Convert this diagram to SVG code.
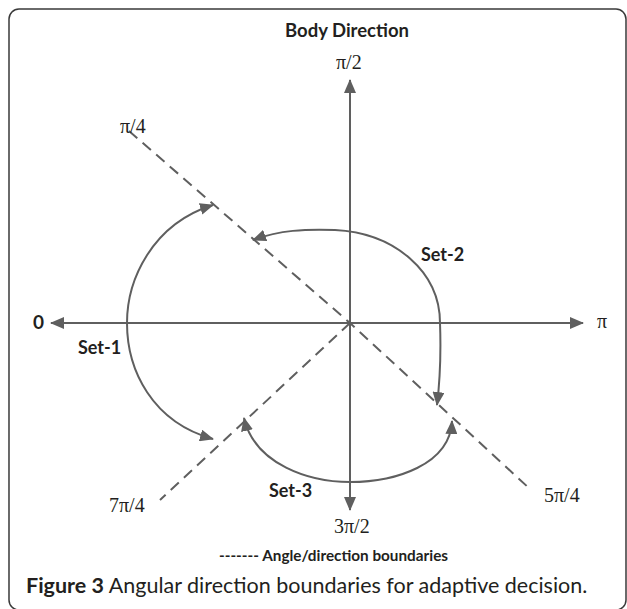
<svg xmlns="http://www.w3.org/2000/svg" width="627" height="609" viewBox="0 0 627 609">
<style>
.ax{stroke:#5f5f5f;stroke-width:2;fill:none}
.dash{stroke:#5f5f5f;stroke-width:2;fill:none;stroke-dasharray:11 7}
.arc{stroke:#5f5f5f;stroke-width:2;fill:none}
.sans{font-family:Lato,"Liberation Sans",sans-serif;fill:#231f20}
.b{font-weight:bold}
.serif{font-family:"Liberation Serif","Times New Roman",serif;font-size:20px;fill:#231f20}
</style>
<defs>
<marker id="ah" viewBox="0 0 14 12" refX="13" refY="6" markerWidth="14" markerHeight="12" markerUnits="userSpaceOnUse" orient="auto-start-reverse">
<path d="M0,0 L14,6 L0,12 z" fill="#5f5f5f"/>
</marker>
</defs>
<rect x="9" y="9" width="617" height="601" rx="10" fill="#fff" stroke="#3a3a3a" stroke-width="1.5"/>
<g id="connectors">
<line class="ax" x1="51" y1="323" x2="583" y2="323" marker-start="url(#ah)" marker-end="url(#ah)"/>
<line class="ax" x1="350" y1="80" x2="350" y2="510" marker-start="url(#ah)" marker-end="url(#ah)"/>
<polyline class="dash" points="129,131 350,323 530,489"/>
<line class="dash" x1="350" y1="323" x2="160" y2="500"/>
<path id="set1-arc" class="arc" d="M 213,205 C 152,224 127,280 127,323 C 127,370 152,422 213,439" marker-start="url(#ah)" marker-end="url(#ah)"/>
<path id="set2-arc" class="arc" d="M 253,240 C 280,230 305,229 335,230 C 395,233 440,272 440,323 C 441,350 440,380 437,405" marker-start="url(#ah)" marker-end="url(#ah)"/>
<path id="set3-arc" class="arc" d="M 244,418 C 255,465 310,482 350,482 C 395,482 450,465 452,421" marker-start="url(#ah)" marker-end="url(#ah)"/>
</g>
<g id="title"><text class="sans b" x="347" y="37" font-size="18.5" text-anchor="middle">Body Direction</text></g>
<g id="label-pi2"><text class="serif" x="336" y="69">π/2</text></g>
<g id="label-pi4"><text class="serif" x="120" y="133">π/4</text></g>
<g id="label-0"><text class="sans b" x="33" y="329" font-size="19">0</text></g>
<g id="label-pi"><text class="serif" x="597" y="328">π</text></g>
<g id="label-7pi4"><text class="serif" x="109" y="512">7π/4</text></g>
<g id="label-5pi4"><text class="serif" x="544" y="502">5π/4</text></g>
<g id="label-3pi2"><text class="serif" x="334" y="533">3π/2</text></g>
<g id="set1"><text class="sans b" x="78" y="354" font-size="18">Set-1</text></g>
<g id="set2"><text class="sans b" x="421" y="261" font-size="18">Set-2</text></g>
<g id="set3"><text class="sans b" x="269" y="497" font-size="18">Set-3</text></g>
<g id="legend"><text class="sans b" x="219" y="561" font-size="15.3">------- Angle/direction boundaries</text></g>
<g id="caption"><text class="sans" x="26" y="593" font-size="21.5"><tspan font-weight="bold">Figure 3</tspan> Angular direction boundaries for adaptive decision.</text></g>
</svg>
